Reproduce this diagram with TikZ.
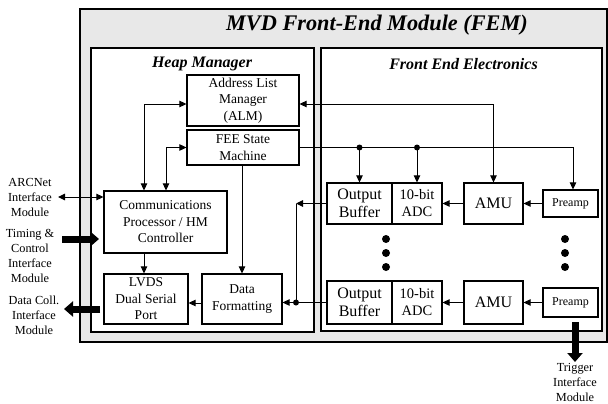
\documentclass[tikz,border=0pt]{standalone}
\usepackage{fontspec}
\setmainfont{Liberation Serif}
\usetikzlibrary{arrows.meta}
\begin{document}
\begin{tikzpicture}[x=1pt,y=-1pt,
  frame/.style={draw, line width=1.4pt, fill=white, inner sep=0},
  box/.style={draw, line width=1.2pt, fill=white, inner sep=0, align=center, font=\fontsize{13.5}{16.5}\selectfont},
  febox/.style={box, font=\fontsize{16}{18}\selectfont},
  adcbox/.style={box, font=\fontsize{14.5}{17}\selectfont},
  smallbox/.style={box, font=\fontsize{12}{14}\selectfont},
  arr/.style={-{Triangle[length=7pt,width=6.5pt]}, line width=1pt},
  darr/.style={{Triangle[length=7pt,width=6.5pt]}-{Triangle[length=7pt,width=6.5pt]}, line width=1pt},
  big/.style={-{Triangle[length=9pt,width=15pt]}, line width=7pt},
  ext/.style={align=center, font=\fontsize{12.3}{15}\selectfont},
  ttl/.style={font=\bfseries\itshape\fontsize{16}{18}\selectfont},
  jdot/.style={circle, fill, inner sep=0, minimum size=6pt},
  bdot/.style={circle, fill, inner sep=0, minimum size=8pt}]
\useasboundingbox (0,0) rectangle (608,404);
% outer module
\node[draw, line width=1.8pt, fill=gray!18, minimum width=527pt, minimum height=333pt, inner sep=0] (fem) at (343.5,175.5) {};
\node[font=\bfseries\itshape\fontsize{22.3}{24}\selectfont] (femt) at (377,25) {MVD Front-End Module (FEM)};
\node[frame, minimum width=223pt, minimum height=284pt] (hm) at (202.5,190) {};
\node[frame, minimum width=281pt, minimum height=283pt] (fee) at (461.5,189.5) {};
\node[ttl] (hmt) at (202,64) {Heap Manager};
\node[ttl] (feet) at (463.5,64) {Front End Electronics};
% heap manager boxes
\node[box, minimum width=112pt, minimum height=51pt] (alm) at (243,100.5) {Address List\\Manager\\(ALM)};
\node[box, minimum width=112pt, minimum height=35pt] (fsm) at (243,147.5) {FEE State\\Machine};
\node[box, minimum width=123pt, minimum height=62pt] (comm) at (165.5,222) {Communications\\Processor / HM\\Controller};
\node[box, minimum width=84pt, minimum height=50pt] (lvds) at (146,299) {LVDS\\Dual Serial\\Port};
\node[box, minimum width=80pt, minimum height=50pt] (df) at (242,299) {Data\\Formatting};
% front end boxes
\node[febox, minimum width=65pt, minimum height=41pt] (ob1) at (359.5,203.5) {Output\\Buffer};
\node[adcbox, minimum width=50pt, minimum height=41pt] (adc1) at (417,203.5) {10-bit\\ADC};
\node[febox, minimum width=59pt, minimum height=41pt] (amu1) at (493.5,203.5) {AMU};
\node[smallbox, minimum width=55pt, minimum height=27pt] (pre1) at (570.5,203.5) {Preamp};
\node[febox, minimum width=65pt, minimum height=43pt] (ob2) at (359.5,302.5) {Output\\Buffer};
\node[adcbox, minimum width=50pt, minimum height=43pt] (adc2) at (417,302.5) {10-bit\\ADC};
\node[febox, minimum width=59pt, minimum height=43pt] (amu2) at (493.5,302.5) {AMU};
\node[smallbox, minimum width=55pt, minimum height=29pt] (pre2) at (570.5,302.5) {Preamp};
% ellipsis dots
\foreach \yy [count=\i] in {239,253,267} {
  \node[bdot] (la\i) at (386,\yy) {};
  \node[bdot] (ra\i) at (565,\yy) {};
}
% coordinates
\coordinate (a1) at (144,104);
\coordinate (a2) at (166,147.5);
\coordinate (r1) at (493.5,104);
\coordinate (r2) at (573,147.5);
\coordinate (j1) at (296,203.5);
\coordinate (j2) at (296,302.5);
% internal connectors
\draw[darr] (comm.north -| a1) -- (a1) -- (alm.west |- a1);
\draw[darr] (comm.north -| a2) -- (a2) -- (fsm.west);
\draw[darr] (alm.east |- r1) -- (r1) -- (amu1.north);
\draw[arr] (fsm.east) -- (r2) -- (pre1.north -| r2);
\node[jdot] (d1) at (ob1.north |- r2) {};
\node[jdot] (d2) at (adc1.north |- r2) {};
\draw[arr] (d1.center) -- (ob1.north);
\draw[arr] (d2.center) -- (adc1.north);
\draw[arr] (fsm.south -| df.north) -- (df.north);
\draw[arr] (comm.south -| a1) -- (lvds.north -| a1);
\draw[arr] ([yshift=-4pt]df.west) -- ([yshift=-4pt]lvds.east);
\draw[arr] (amu1.west) -- (adc1.east);
\draw[arr] (pre1.west) -- (amu1.east);
\draw[arr] (amu2.west) -- (adc2.east);
\draw[arr] (pre2.west) -- (amu2.east);
\draw[arr] (ob1.west) -- (j1);
\draw[line width=1pt] (j1) -- (j2);
\draw[line width=1pt] (ob2.west) -- (j2);
\node[jdot] (j2d) at (j2) {};
\draw[arr] (j2) -- (df.east |- j2);
% external interfaces
\node[ext] (arc) at (30,197) {ARCNet\\Interface\\Module};
\node[ext] (tim) at (30,255.5) {Timing \&\\Control\\Interface\\Module};
\node[ext] (dcol) at (34,315) {Data Coll.\\Interface\\Module};
\node[ext] (trig) at (575,382) {Trigger\\Interface\\Module};
\coordinate (t0) at (62,239);
\coordinate (t1) at (99,239);
\coordinate (c0) at (100,309);
\coordinate (c1) at (64,309);
\coordinate (g0) at (575,322);
\coordinate (g1) at (575,362);
\draw[darr] (58,197) -- (comm.west |- arc.east);
\draw[big] (t0) -- (t1);
\draw[big] (c0) -- (c1);
\draw[big] (g0) -- (g1);
\end{tikzpicture}
\end{document}
